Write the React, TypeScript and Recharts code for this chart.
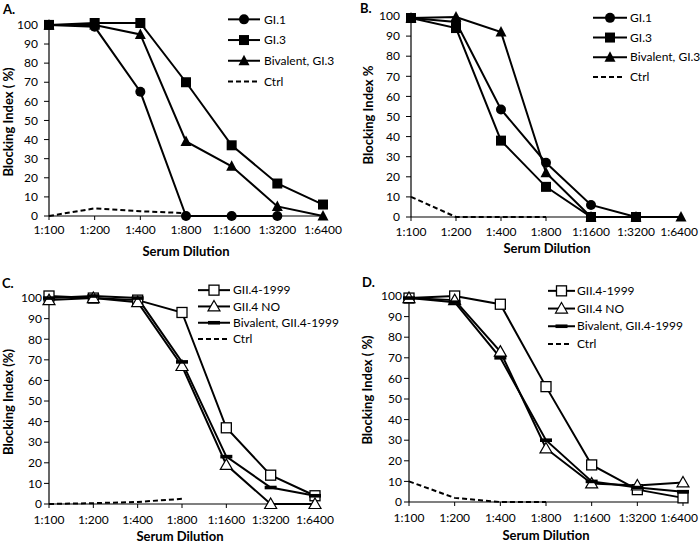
import { LineChart, Line, XAxis, YAxis, Legend, Label } from 'recharts';

const FONT = 'Lato, "Liberation Sans", sans-serif';

const DILUTIONS = ['1:100', '1:200', '1:400', '1:800', '1:1600', '1:3200', '1:6400'];
const Y_TICKS = [0, 10, 20, 30, 40, 50, 60, 70, 80, 90, 100];

// panel A
const A_GI1 = [100, 99, 65, 0, 0, 0, null];
const A_GI3 = [100, 101, 101, 70, 37, 17, 6];
const A_BIV = [100, 100, 95, 39, 26, 5, 0];
const A_CTRL = [0, 4, 2.5, 1.5, null, null, null];

// panel B
const B_GI1 = [99, 97, 53.5, 27, 6, 0, null];
const B_GI3 = [99, 94, 38, 15, 0, 0, null];
const B_BIV = [99, 99.5, 92, 22, 0, 0, 0];
const B_CTRL = [10, 0, 0, 0, null, null, null];

// panel C
const C_G1999 = [101, 100, 99, 93, 37, 14, 4];
const C_GNO = [99, 100, 98, 67, 19, 0, 0];
const C_BIV = [100, 101, 100, 69, 23, 8, 4];
const C_CTRL = [0, 0.4, 1, 2.5, null, null, null];

// panel D
const D_G1999 = [99, 100, 96, 56, 18, 6, 2];
const D_GNO = [99, 98, 73, 26, 9, 8, 9.5];
const D_BIV = [99, 97, 70, 30, 10, 7, 5];
const D_CTRL = [10, 2, 0, 0, null, null, null];

type Kind = 'circle' | 'square' | 'triangle' | 'openSquare' | 'openTriangle' | 'dash' | null;

type Series = { key: string; name: string; values: (number | null)[]; marker: Kind; dashed?: boolean };

function Marker({ kind, cx, cy }: { kind: Kind; cx: number; cy: number }) {
  switch (kind) {
    case 'circle':
      return <circle cx={cx} cy={cy} r={5} fill="#000" />;
    case 'square':
      return <rect x={cx - 5} y={cy - 5} width={10} height={10} fill="#000" />;
    case 'triangle':
      return <polygon points={`${cx},${cy - 6} ${cx + 5.5},${cy + 4.5} ${cx - 5.5},${cy + 4.5}`} fill="#000" />;
    case 'openSquare':
      return <rect x={cx - 5} y={cy - 5} width={10} height={10} fill="#fff" stroke="#000" strokeWidth={1.3} />;
    case 'openTriangle':
      return (
        <polygon
          points={`${cx},${cy - 6} ${cx + 6},${cy + 4.5} ${cx - 6},${cy + 4.5}`}
          fill="#fff"
          stroke="#000"
          strokeWidth={1.2}
        />
      );
    case 'dash':
      return <rect x={cx - 6} y={cy - 1.8} width={12} height={3.6} fill="#000" />;
    default:
      return null;
  }
}

// x tick label; a label that would run past the panel's right edge is pulled back inside
function XTick({ x, y, payload, maxX }: any) {
  const half = 19;
  const fits = x + half <= maxX;
  return (
    <text
      x={fits ? x : maxX}
      y={y}
      dy="0.71em"
      textAnchor={fits ? 'middle' : 'end'}
      fontSize={12}
      fontFamily={FONT}
      fill="#000"
    >
      {payload.value}
    </text>
  );
}

function LegendBox({ series, gap, lineLen, textX }: { series: Series[]; gap: number; lineLen: number; textX: number }) {
  return (
    <svg width={170} height={gap * series.length} style={{ display: 'block', overflow: 'visible' }}>
      {series.map((s, i) => {
        const y = gap * i + gap / 2;
        return (
          <g key={s.key}>
            <line
              x1={0}
              x2={s.dashed ? lineLen - 3 : lineLen}
              y1={y}
              y2={y}
              stroke="#000"
              strokeWidth={2}
              strokeDasharray={s.dashed ? '5 3' : undefined}
            />
            {s.marker && <Marker kind={s.marker} cx={lineLen / 2} cy={y} />}
            <text x={textX} y={y} dy="0.35em" fontSize={12} fontFamily={FONT} fill="#000">
              {s.name}
            </text>
          </g>
        );
      })}
    </svg>
  );
}

type PanelProps = {
  letter: string;
  letterPos: [number, number];
  left: number;
  top: number;
  series: Series[];
  yTitle: string;
  yTitlePos: [number, number];
  xTitlePos: [number, number];
  margin: { top: number; right: number };
  yAxisWidth: number;
  xAxisHeight: number;
  yTickMargin: number;
  xTickMargin: number;
  legend: { left: number; firstRow: number; gap: number; lineLen: number; textX: number };
};

function Panel(p: PanelProps) {
  const data = DILUTIONS.map((d, i) => {
    const row: Record<string, any> = { dilution: d };
    p.series.forEach((s) => {
      row[s.key] = s.values[i];
    });
    return row;
  });

  return (
    <div style={{ position: 'absolute', left: p.left, top: p.top, width: 350, height: 272 }}>
      <div
        style={{
          position: 'absolute',
          left: p.letterPos[0],
          top: p.letterPos[1],
          fontFamily: FONT,
          fontWeight: 700,
          fontSize: 13,
          lineHeight: '13px',
          color: '#000',
        }}
      >
        {p.letter}
      </div>
      <LineChart
        width={350}
        height={272}
        data={data}
        margin={{ top: p.margin.top, right: p.margin.right, bottom: 0, left: 0 }}
      >
        <XAxis
          dataKey="dilution"
          height={p.xAxisHeight}
          interval={0}
          tickSize={4}
          tickMargin={p.xTickMargin}
          stroke="#000"
          tick={(t: any) => <XTick {...t} maxX={348} />}
          axisLine={{ stroke: '#000', strokeWidth: 1.2 }}
        >
          <Label
            content={() => (
              <text
                x={p.xTitlePos[0]}
                y={p.xTitlePos[1]}
                dy="0.35em"
                textAnchor="middle"
                fontSize={13}
                fontWeight={700}
                fontFamily={FONT}
                fill="#000"
              >
                Serum Dilution
              </text>
            )}
          />
        </XAxis>
        <YAxis
          width={p.yAxisWidth}
          domain={[0, 100]}
          ticks={Y_TICKS}
          interval={0}
          tickSize={5}
          tickMargin={p.yTickMargin}
          stroke="#000"
          tick={{ fontSize: 12, fill: '#000', fontFamily: FONT }}
          axisLine={{ stroke: '#000', strokeWidth: 1.2 }}
        >
          <Label
            content={() => (
              <text
                x={0}
                y={0}
                transform={`translate(${p.yTitlePos[0]}, ${p.yTitlePos[1]}) rotate(-90)`}
                dy="0.35em"
                textAnchor="middle"
                fontSize={13}
                fontWeight={700}
                fontFamily={FONT}
                fill="#000"
              >
                {p.yTitle}
              </text>
            )}
          />
        </YAxis>
        <Legend
          layout="vertical"
          align="center"
          verticalAlign="middle"
          wrapperStyle={{ left: p.legend.left, top: p.legend.firstRow - p.legend.gap / 2, width: 170 }}
          content={() => (
            <LegendBox series={p.series} gap={p.legend.gap} lineLen={p.legend.lineLen} textX={p.legend.textX} />
          )}
        />
        {p.series.map((s) => (
          <Line
            key={s.key}
            dataKey={s.key}
            name={s.name}
            stroke="#000"
            strokeWidth={2}
            strokeDasharray={s.dashed ? '5 3' : undefined}
            isAnimationActive={false}
            activeDot={false}
            dot={
              s.marker
                ? (d: any) =>
                    d.cy == null || d.value == null ? (
                      <g key={`${s.key}-${d.index}`} />
                    ) : (
                      <g key={`${s.key}-${d.index}`}>
                        <Marker kind={s.marker} cx={d.cx} cy={d.cy} />
                      </g>
                    )
                : false
            }
          />
        ))}
      </LineChart>
    </div>
  );
}

const SERIES_A: Series[] = [
  { key: 'gi1', name: 'GI.1', values: A_GI1, marker: 'circle' },
  { key: 'gi3', name: 'GI.3', values: A_GI3, marker: 'square' },
  { key: 'biv', name: 'Bivalent, GI.3', values: A_BIV, marker: 'triangle' },
  { key: 'ctrl', name: 'Ctrl', values: A_CTRL, marker: null, dashed: true },
];

const SERIES_B: Series[] = [
  { key: 'gi1', name: 'GI.1', values: B_GI1, marker: 'circle' },
  { key: 'gi3', name: 'GI.3', values: B_GI3, marker: 'square' },
  { key: 'biv', name: 'Bivalent, GI.3', values: B_BIV, marker: 'triangle' },
  { key: 'ctrl', name: 'Ctrl', values: B_CTRL, marker: null, dashed: true },
];

const SERIES_C: Series[] = [
  { key: 'g1999', name: 'GII.4-1999', values: C_G1999, marker: 'openSquare' },
  { key: 'gno', name: 'GII.4 NO', values: C_GNO, marker: 'openTriangle' },
  { key: 'biv', name: 'Bivalent, GII.4-1999', values: C_BIV, marker: 'dash' },
  { key: 'ctrl', name: 'Ctrl', values: C_CTRL, marker: null, dashed: true },
];

const SERIES_D: Series[] = [
  { key: 'g1999', name: 'GII.4-1999', values: D_G1999, marker: 'openSquare' },
  { key: 'gno', name: 'GII.4 NO', values: D_GNO, marker: 'openTriangle' },
  { key: 'biv', name: 'Bivalent, GII.4-1999', values: D_BIV, marker: 'dash' },
  { key: 'ctrl', name: 'Ctrl', values: D_CTRL, marker: null, dashed: true },
];

export default function App() {
  return (
    <div style={{ position: 'absolute', left: 0, top: 0, width: 700, height: 544, background: '#fff', overflow: 'hidden' }}>
      <Panel
        letter="A."
        letterPos={[3, 3]}
        left={0}
        top={0}
        series={SERIES_A}
        yTitle="Blocking Index ( %)"
        yTitlePos={[8, 122]}
        xTitlePos={[186, 251]}
        margin={{ top: 23, right: 27 }}
        yAxisWidth={49}
        xAxisHeight={56}
        yTickMargin={6}
        xTickMargin={5}
        legend={{ left: 228, firstRow: 19, gap: 20.7, lineLen: 32, textX: 36 }}
      />
      <Panel
        letter="B."
        letterPos={[10, 2]}
        left={350}
        top={0}
        series={SERIES_B}
        yTitle="Blocking Index %"
        yTitlePos={[18, 115]}
        xTitlePos={[197, 248]}
        margin={{ top: 16, right: 19 }}
        yAxisWidth={61}
        xAxisHeight={55}
        yTickMargin={6}
        xTickMargin={6}
        legend={{ left: 243, firstRow: 18, gap: 19.7, lineLen: 34, textX: 37 }}
      />
      <Panel
        letter="C."
        letterPos={[2, 5]}
        left={0}
        top={272}
        series={SERIES_C}
        yTitle="Blocking Index (%)"
        yTitlePos={[8, 130]}
        xTitlePos={[180, 264]}
        margin={{ top: 24, right: 35 }}
        yAxisWidth={49}
        xAxisHeight={40}
        yTickMargin={2}
        xTickMargin={7}
        legend={{ left: 198, firstRow: 18, gap: 16.3, lineLen: 32, textX: 35 }}
      />
      <Panel
        letter="D."
        letterPos={[12, 4]}
        left={350}
        top={272}
        series={SERIES_D}
        yTitle="Blocking Index ( %)"
        yTitlePos={[17, 118]}
        xTitlePos={[196, 263]}
        margin={{ top: 24, right: 17 }}
        yAxisWidth={59}
        xAxisHeight={42}
        yTickMargin={2}
        xTickMargin={7}
        legend={{ left: 198, firstRow: 19, gap: 17.7, lineLen: 27, textX: 29 }}
      />
    </div>
  );
}
